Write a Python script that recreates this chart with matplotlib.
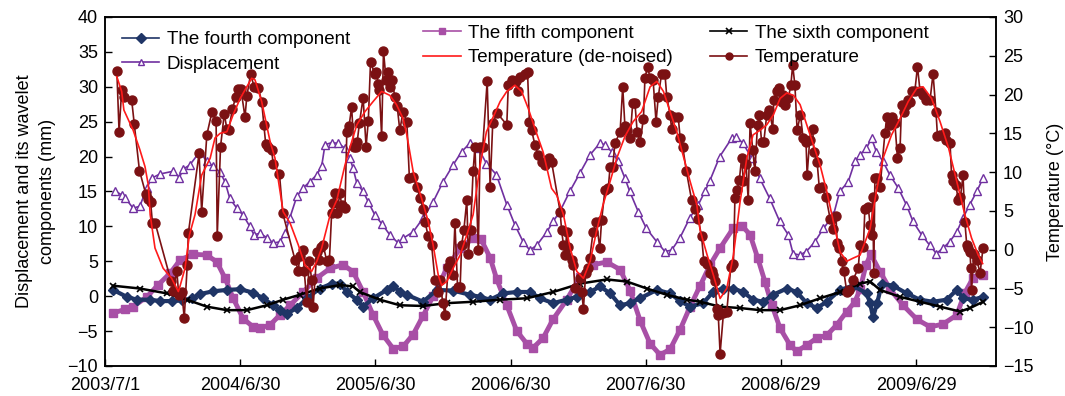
import matplotlib.pyplot as plt

plt.rcParams['font.family'] = ['Liberation Sans', 'DejaVu Sans']
plt.rcParams['font.size'] = 13

# x values are days since 2003/7/1
tick_days = [0, 365, 730, 1095, 1460, 1825, 2190]
tick_labels = ['2003/7/1', '2004/6/30', '2005/6/30', '2006/6/30',
               '2007/6/30', '2008/6/29', '2009/6/29']

displacement = [
    (27, 15.1), (45, 14.5), (54, 14.1), (76, 12.6), (94, 12.9), (113, 15.5), (126, 16.9),
    (148, 17.5), (184, 17.9), (201, 17.0), (211, 18.2), (229, 18.8), (256, 20.7), (275, 19.3),
    (292, 18.6), (310, 17.8), (324, 16.4), (337, 14.0), (356, 12.6), (373, 11.6), (391, 10.0),
    (402, 8.8), (418, 9.0), (437, 8.4), (454, 7.6), (472, 7.8), (486, 9.0), (499, 11.2),
    (518, 14.3), (535, 15.5), (553, 16.4), (572, 17.4), (585, 18.6), (594, 21.7), (612, 22.0),
    (630, 21.9), (648, 21.2), (661, 19.8), (670, 18.3), (680, 16.2), (697, 15.0), (711, 13.5),
    (729, 11.6), (747, 10.4), (769, 8.8), (792, 7.6), (805, 8.3), (832, 9.2), (859, 11.2),
    (886, 13.5), (913, 16.4), (940, 18.8), (963, 20.7), (985, 21.9), (1008, 21.2), (1030, 19.0),
    (1057, 17.4), (1085, 13.1), (1107, 10.2), (1129, 7.8), (1147, 6.6), (1166, 7.3), (1193, 9.2),
    (1210, 10.7), (1228, 12.1), (1255, 15.0), (1282, 17.6), (1309, 20.2), (1336, 21.9),
    (1350, 21.7), (1368, 20.7), (1386, 19.3), (1404, 16.9), (1417, 15.0), (1440, 12.1),
    (1462, 9.7), (1490, 7.8), (1512, 6.4), (1530, 6.6), (1552, 8.3), (1579, 11.2), (1602, 13.1),
    (1620, 15.0), (1633, 16.5), (1660, 20.0), (1692, 22.6), (1705, 22.8), (1723, 21.9),
    (1746, 19.8), (1768, 16.9), (1795, 14.0), (1822, 10.7), (1845, 8.8), (1858, 6.1),
    (1876, 5.9), (1894, 6.4), (1917, 7.8), (1940, 9.7), (1967, 11.6), (1984, 15.0), (2007, 16.4),
    (2025, 19.3), (2038, 20.2), (2056, 21.2), (2070, 22.6), (2083, 20.7), (2101, 19.3),
    (2119, 17.4), (2142, 15.5), (2164, 13.1), (2182, 10.7), (2205, 8.8), (2227, 7.3),
    (2245, 6.1), (2263, 6.9), (2281, 7.8), (2300, 9.2), (2317, 11.2), (2335, 13.1),
    (2354, 15.0), (2371, 16.9),
]

fifth = [
    (22, -2.4), (54, -1.9), (76, -1.5), (113, -0.1), (143, 1.6), (176, 3.3), (203, 5.2),
    (238, 6.0), (275, 5.9), (302, 4.9), (324, 2.6), (346, -0.3), (373, -3.2), (400, -4.4),
    (418, -4.6), (446, -4.1), (472, -2.7), (500, -1.3), (535, 0.6), (572, 2.6), (608, 4.0),
    (643, 4.5), (670, 3.5), (697, 0.6), (724, -2.7), (751, -5.6), (778, -7.5), (805, -7.2),
    (832, -5.5), (859, -2.8), (886, 0.0), (923, 4.0), (959, 6.9), (994, 8.3), (1015, 8.2),
    (1040, 5.5), (1058, 2.4), (1085, -1.3), (1112, -5.0), (1139, -6.8), (1156, -7.4),
    (1183, -6.0), (1210, -3.3), (1247, -0.5), (1283, 2.8), (1318, 4.5), (1355, 4.9),
    (1391, 3.8), (1418, 0.8), (1445, -3.5), (1472, -6.8), (1499, -8.4), (1526, -7.6),
    (1553, -4.8), (1580, -1.5), (1607, 1.5), (1634, 4.5), (1661, 6.9), (1696, 9.7),
    (1720, 10.1), (1742, 8.8), (1763, 5.4), (1782, 2.1), (1801, -1.3), (1823, -4.6),
    (1850, -7.0), (1868, -7.9), (1895, -7.0), (1922, -6.0), (1949, -5.6), (1976, -4.1),
    (2003, -2.2), (2025, -0.8), (2039, 1.0), (2055, 4.5), (2068, 6.0), (2093, 3.5),
    (2120, 1.0), (2155, -1.3), (2192, -3.3), (2228, -4.4), (2263, -4.0), (2300, -2.7),
    (2322, 0.5), (2344, 2.6), (2371, 3.0),
]

fourth = [
    (22, 0.9), (59, -0.1), (86, -0.5), (122, -0.5), (149, -0.7), (181, -0.7), (208, -0.6),
    (235, -0.3), (256, 0.3), (292, 0.7), (329, 0.9), (365, 1.0), (400, 0.5), (427, -0.3),
    (454, -1.3), (472, -2.0), (491, -2.5), (518, -1.7), (545, -0.3), (580, 1.1), (613, 1.8),
    (635, 1.8), (653, 0.6), (680, -0.5), (697, -1.5), (724, -0.3), (761, 0.9), (778, 1.5),
    (797, 0.6), (815, 0.2), (859, -0.8), (896, 0.9), (940, 0.8), (986, 0.2), (1013, -0.1),
    (1040, -0.5), (1075, 0.4), (1112, 0.6), (1148, 0.6), (1175, -0.3), (1210, -1.0),
    (1247, -0.5), (1274, -0.1), (1310, 0.6), (1337, 1.4), (1364, 0.4), (1391, -1.3),
    (1418, -1.0), (1445, -0.3), (1490, 0.9), (1526, 0.4), (1553, -0.7), (1580, -1.5),
    (1615, -1.0), (1642, 0.6), (1669, 1.1), (1696, 1.1), (1723, 0.6), (1750, -0.5),
    (1777, -0.8), (1804, 0.2), (1841, 1.1), (1868, 0.6), (1895, -1.0), (1922, -1.7),
    (1949, -0.8), (1985, 0.9), (2020, 1.5), (2057, 0.4), (2066, -1.0), (2074, -3.0),
    (2085, -1.0), (2098, 1.8), (2128, 1.5), (2165, 0.4), (2200, -0.5), (2236, -0.8),
    (2273, -0.5), (2300, 0.9), (2317, -0.3), (2344, -0.5), (2371, -0.1),
]

sixth = [
    (22, 1.5), (94, 1.1), (167, 0.4), (221, -0.5), (275, -1.5), (329, -2.0), (383, -2.0),
    (437, -1.3), (481, -0.5), (526, 0.2), (580, 1.1), (635, 1.6), (670, 1.4), (688, 0.6),
    (742, -0.5), (796, -1.3), (859, -1.4), (923, -1.0), (994, -0.8), (1067, -0.5),
    (1139, -0.3), (1210, 0.6), (1283, 1.8), (1355, 2.4), (1409, 2.1), (1463, 1.1),
    (1517, 0.2), (1571, -0.5), (1607, -0.8), (1661, -1.5), (1715, -1.7), (1769, -2.0),
    (1823, -2.0), (1877, -1.3), (1931, -0.3), (1985, 0.6), (2039, 1.8), (2066, 2.1),
    (2093, 0.9), (2147, -0.1), (2201, -0.8), (2255, -1.5), (2309, -2.2), (2336, -1.7),
    (2371, -0.8),
]

temperature = [
    (32, 23.0), (38, 15.2), (45, 20.6), (52, 19.7), (72, 19.3), (79, 16.2), (93, 10.2),
    (110, 7.2), (117, 6.5), (123, 6.2), (128, 3.5), (135, 3.5), (178, -4.0), (184, -5.3),
    (194, -2.8), (199, -5.8), (207, -5.4), (214, -8.8), (222, -2.0), (225, 2.1), (254, 12.4),
    (261, 4.9), (275, 14.8), (289, 17.8), (300, 16.6), (303, 1.7), (312, 13.3), (322, 17.5),
    (329, 15.6), (334, 15.4), (344, 18.1), (353, 19.7), (358, 20.7), (367, 20.7), (378, 17.1),
    (383, 19.8), (393, 22.6), (403, 21.0), (414, 20.9), (423, 19.1), (429, 16.1), (434, 13.6),
    (441, 13.3), (450, 12.8), (454, 11.1), (471, 9.8), (480, 4.7), (513, -1.3), (522, -2.7),
    (526, -0.8), (535, 0.0), (538, -2.8), (545, -6.7), (552, -1.5), (558, -3.9), (562, -7.4),
    (572, -0.3), (579, -1.3), (582, 0.4), (589, 0.6), (599, -1.5), (606, -1.3), (612, 4.7),
    (615, 6.0), (621, 7.3), (627, 4.7), (634, 7.3), (639, 5.8), (648, 5.4), (653, 15.2),
    (659, 15.9), (666, 18.4), (672, 13.3), (678, 13.2), (681, 13.9), (687, 16.3), (697, 19.6),
    (705, 13.3), (711, 16.6), (717, 24.2), (729, 22.6), (732, 22.9), (738, 21.4), (741, 20.6),
    (747, 14.6), (752, 25.6), (759, 21.9), (765, 22.9), (769, 21.0), (774, 21.9), (783, 19.7),
    (789, 18.5), (796, 15.4), (805, 17.8), (815, 16.5), (822, 9.2), (832, 9.4), (842, 8.1),
    (851, 6.6), (859, 5.3), (864, 3.6), (873, 1.7), (882, 0.6), (891, -3.9), (900, -5.4),
    (905, -3.9), (912, -6.9), (918, -8.4), (927, -2.2), (932, -1.5), (939, -3.3), (945, 3.4),
    (952, -4.8), (959, -4.8), (963, 0.6), (969, 2.5), (977, 6.4), (981, -0.5), (987, 2.5),
    (994, 10.1), (999, 13.3), (1008, 0.0), (1013, 13.3), (1020, 13.3), (1032, 21.7),
    (1040, 8.1), (1047, 16.3), (1059, 17.6), (1085, 16.1), (1089, 21.2), (1098, 21.9),
    (1110, 21.7), (1116, 20.5), (1120, 22.3), (1134, 22.7), (1141, 22.9), (1146, 16.5),
    (1152, 15.4), (1161, 13.5), (1170, 12.2), (1179, 11.3), (1188, 10.9), (1200, 11.8),
    (1206, 11.3), (1229, 4.9), (1233, 2.5), (1238, 0.6), (1242, -0.7), (1247, 2.3),
    (1251, 0.4), (1260, -1.3), (1265, -2.0), (1269, -5.0), (1283, -3.7), (1287, -5.4),
    (1292, -7.6), (1298, -3.0), (1305, -2.4), (1309, -1.1), (1318, 2.3), (1327, 3.6),
    (1336, 0.2), (1341, 3.8), (1350, 7.7), (1359, 7.9), (1364, 10.7), (1371, 10.7),
    (1377, 13.7), (1391, 15.2), (1398, 21.0), (1404, 15.9), (1410, 15.4), (1418, 14.4),
    (1425, 18.9), (1431, 18.9), (1437, 15.2), (1445, 13.9), (1454, 16.9), (1458, 22.1),
    (1465, 23.6), (1472, 22.1), (1480, 21.9), (1488, 16.5), (1494, 19.7), (1503, 22.7),
    (1512, 22.7), (1517, 19.7), (1526, 17.4), (1530, 15.6), (1536, 17.1), (1548, 17.1),
    (1553, 14.4), (1560, 13.3), (1570, 10.1), (1584, 6.4), (1593, 5.3), (1602, 4.0),
    (1611, 1.7), (1617, -1.5), (1626, -1.8), (1634, -3.0), (1639, -2.8), (1643, -3.3),
    (1647, -4.1), (1652, -7.6), (1656, -8.4), (1661, -13.4), (1670, -8.2), (1679, -8.0),
    (1690, -2.2), (1697, -1.8), (1701, 6.6), (1707, 7.7), (1713, 9.0), (1719, 11.8),
    (1724, 8.8), (1731, 11.1), (1737, 6.4), (1742, 16.3), (1749, 12.9), (1755, 10.1),
    (1762, 16.1), (1767, 17.4), (1773, 13.9), (1779, 13.9), (1787, 17.4), (1794, 18.0),
    (1803, 15.6), (1806, 19.3), (1814, 20.4), (1821, 20.8), (1827, 19.1), (1832, 19.9),
    (1836, 18.7), (1845, 19.5), (1852, 21.2), (1857, 23.8), (1863, 21.2), (1869, 15.4),
    (1878, 17.4), (1885, 14.4), (1893, 13.9), (1896, 9.6), (1903, 14.2), (1911, 15.6),
    (1914, 12.6), (1923, 11.3), (1929, 7.9), (1935, 8.1), (1947, 6.8), (1958, 4.0),
    (1967, 2.7), (1974, 4.3), (1977, 0.8), (1983, 0.2), (1989, -1.5), (1995, -2.8),
    (2003, -5.4), (2010, -5.2), (2020, -3.9), (2034, -2.4), (2039, 0.6), (2048, 0.4),
    (2052, 5.3), (2061, 5.5), (2066, 3.2), (2070, 1.9), (2073, 6.8), (2076, -3.0),
    (2079, 9.2), (2085, 9.3), (2093, 8.1), (2106, 15.0), (2111, 17.1), (2120, 16.1),
    (2126, 17.1), (2133, 16.3), (2140, 11.8), (2147, 13.1), (2151, 18.7), (2158, 17.8),
    (2163, 18.7), (2169, 19.3), (2175, 19.1), (2178, 20.5), (2187, 20.5), (2194, 23.6),
    (2201, 20.4), (2209, 19.9), (2218, 19.3), (2228, 19.3), (2236, 22.7), (2244, 17.8),
    (2248, 14.6), (2255, 14.8), (2268, 15.0), (2272, 14.2), (2282, 13.7), (2286, 9.6),
    (2291, 8.8), (2298, 8.3), (2304, 6.4), (2310, 6.8), (2317, 9.6), (2322, 3.6),
    (2327, 0.6), (2331, 0.2), (2336, -0.3), (2338, -2.4), (2340, -5.2), (2346, -0.5),
    (2354, -1.3), (2363, -3.0), (2371, 0.2),
]

temp_denoised = [
    (32, 22.3), (45, 20.4), (51, 18.0), (76, 15.4), (94, 12.9), (108, 10.7), (117, 8.3),
    (122, 4.5), (135, 0.2), (157, -2.4), (180, -3.7), (198, -5.4), (202, -4.8), (216, -2.4),
    (228, 1.9), (243, 4.5), (261, 9.6), (284, 11.8), (297, 14.4), (311, 15.0), (329, 15.2),
    (346, 17.4), (365, 19.5), (383, 21.0), (396, 22.1), (405, 21.9), (423, 19.1), (446, 13.9),
    (459, 11.8), (481, 4.9), (500, 3.4), (522, 0.6), (540, -2.0), (558, -2.8), (572, -1.5),
    (585, 0.2), (608, 4.5), (626, 6.4), (648, 10.9), (661, 13.1), (680, 16.1), (702, 17.8),
    (724, 19.1), (747, 20.4), (769, 19.9), (787, 18.7), (805, 16.9), (815, 14.8), (832, 10.1),
    (855, 6.6), (873, 3.6), (886, 0.6), (900, -3.3), (909, -4.6), (923, -4.1), (940, -2.4),
    (959, -0.7), (977, 1.9), (994, 4.5), (1013, 10.9), (1030, 15.2), (1053, 17.6),
    (1067, 19.1), (1085, 20.4), (1107, 21.2), (1125, 20.4), (1143, 18.2), (1161, 15.6),
    (1183, 12.6), (1206, 7.9), (1220, 7.0), (1238, 4.5), (1256, 0.2), (1274, -2.8),
    (1292, -3.7), (1310, -1.5), (1327, 2.3), (1345, 5.8), (1364, 8.8), (1382, 11.8),
    (1404, 14.6), (1426, 16.5), (1449, 17.8), (1472, 21.0), (1490, 21.7), (1508, 20.4),
    (1526, 17.8), (1544, 15.2), (1561, 12.2), (1580, 8.8), (1598, 5.8), (1607, 2.5),
    (1626, -0.7), (1643, -3.3), (1661, -6.3), (1679, -5.0), (1697, -0.7), (1715, 6.2),
    (1733, 11.8), (1750, 14.8), (1769, 15.4), (1787, 16.1), (1805, 17.4), (1823, 19.5),
    (1841, 20.2), (1859, 19.9), (1877, 18.7), (1895, 16.1), (1913, 13.5), (1931, 10.9),
    (1949, 7.5), (1967, 3.6), (1985, -0.3), (2003, -1.5), (2020, -1.1), (2039, -0.7),
    (2066, 2.7), (2083, 7.5), (2101, 11.8), (2124, 14.8), (2147, 16.9), (2169, 19.1),
    (2192, 20.8), (2209, 21.0), (2232, 19.5), (2255, 16.5), (2278, 13.1), (2300, 8.8),
    (2322, 4.5), (2340, 1.5), (2358, -0.7), (2370, -1.8),
]


def xy(pairs):
    return [p[0] for p in pairs], [p[1] for p in pairs]


fig = plt.figure(figsize=(10.65, 3.96), dpi=100)
ax = fig.add_axes([0.0986, 0.0758, 0.8366, 0.8813])
ax2 = ax.twinx()

x, y = xy(displacement)
h_disp, = ax.plot(x, y, color='#7030A0', lw=1.2, marker='^', ms=5.5,
                  mfc='white', mec='#7030A0', mew=1.0, label='Displacement')
x, y = xy(fifth)
h5, = ax.plot(x, y, color='#A84FA6', lw=3.5, marker='s', ms=6,
              mec='#A84FA6', label='The fifth component')
x, y = xy(fourth)
h4, = ax.plot(x, y, color='#1F3566', lw=3.0, marker='D', ms=5,
              mec='#1F3566', label='The fourth component')
x, y = xy(sixth)
h6, = ax.plot(x, y, color='black', lw=1.8, marker='x', ms=5, mew=1.2,
              label='The sixth component')

x, y = xy(temperature)
ht, = ax2.plot(x, y, color='#7B1113', lw=1.2, marker='o', ms=6.5,
               mec='#7B1113', label='Temperature')
x, y = xy(temp_denoised)
htd, = ax2.plot(x, y, color='#FF1A1A', lw=1.2, label='Temperature (de-noised)')

ax.set_xlim(0, 2406)
ax.set_ylim(-10, 40)
ax2.set_ylim(-15, 30)
ax.set_yticks(range(-10, 41, 5))
ax2.set_yticks(range(-15, 31, 5))
ax.set_xticks(tick_days)
ax.set_xticklabels(tick_labels)

ax.tick_params(direction='in', length=5, width=1, labelsize=13, pad=5)
ax.tick_params(axis='x', pad=8)
ax2.tick_params(direction='in', length=5, width=1, labelsize=13, pad=5)
for a in (ax, ax2):
    for s in a.spines.values():
        s.set_linewidth(1.1)

ax.set_ylabel('Displacement and its wavelet\ncomponents (mm)', fontsize=13,
              linespacing=1.45, labelpad=8)
ax2.set_ylabel('Temperature (°C)', fontsize=13, labelpad=10)

common = dict(frameon=False, borderpad=0, borderaxespad=0, handlelength=2.0,
              handletextpad=0.4, labelspacing=0.4, fontsize=13.5, loc='upper left')
# legend handles keep thin lines like the reference key
leg1 = ax2.legend(handles=[h4, h_disp], bbox_to_anchor=(0.019, 0.96), **common)
ax2.add_artist(leg1)
leg2 = ax2.legend(handles=[h5, htd], bbox_to_anchor=(0.357, 0.978), **common)
ax2.add_artist(leg2)
leg3 = ax2.legend(handles=[h6, ht], bbox_to_anchor=(0.679, 0.978), **common)
for leg in (leg1, leg2, leg3):
    for line in leg.get_lines():
        line.set_linewidth(1.2)
        line.set_markersize(5)

plt.savefig('out.png', dpi=100)
